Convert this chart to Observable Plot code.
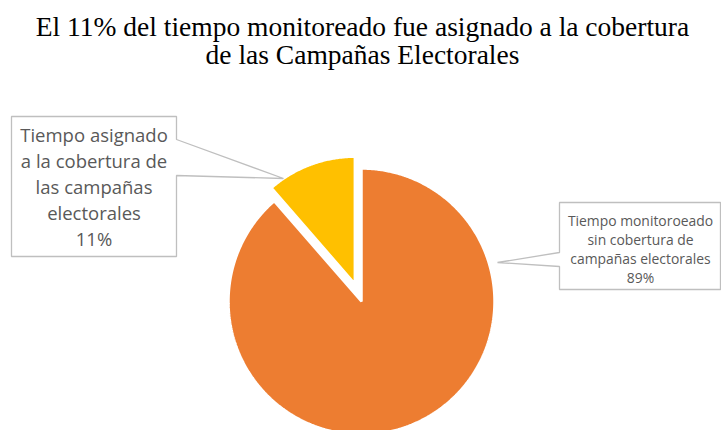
<!DOCTYPE html>
<html><head><meta charset="utf-8">
<script src="https://cdn.jsdelivr.net/npm/d3@7"></script>
<script src="https://cdn.jsdelivr.net/npm/@observablehq/plot@0.6"></script>
<style>
body{margin:0;background:#fff;}
#title{width:725px;height:80px;box-sizing:border-box;padding-top:13px;font-family:"Liberation Serif","Times New Roman",serif;font-size:27.5px;line-height:28px;text-align:center;color:#000;white-space:nowrap;}
#chart svg{display:block;}
</style></head><body>
<div id="title">El 11% del tiempo monitoreado fue asignado a la cobertura<br>de las Campañas Electorales</div>
<div id="chart"></div>
<script>
// ---- data ----
const categories = [
  "Tiempo monitoroeado\nsin cobertura de\ncampañas electorales",
  "Tiempo asignado\na la cobertura de\nlas campañas\nelectorales"
];
const values = [88.6, 11.4];
const colors = ["#ED7D31", "#FFC000"];

// ---- layout (page pixel coordinates) ----
const TOP = 80, W = 721, H = 430;
const pieLayout = {cx: 361, cy: 301, radius: [133, 127], explode: [0, 19]};
const callouts = [
  {side: "left", box: [559, 202, 720, 289], base: [252, 266], tip: [497, 262],
   tx: 640, lastBaseline: 282.3, fontSize: 13.9, spacing: 19},
  {side: "right", box: [11, 116, 176, 256], base: [139, 175], tip: [283, 178],
   tx: 93.5, lastBaseline: 245.3, fontSize: 18.5, spacing: 26}
];

const total = d3.sum(values);
const arcs = d3.pie().sort(null)(values);

function slicePolygon(a, i) {
  const r = pieLayout.radius[i];
  const mid = (a.startAngle + a.endAngle) / 2;
  const ox = pieLayout.cx + pieLayout.explode[i] * Math.sin(mid);
  const oy = pieLayout.cy - pieLayout.explode[i] * Math.cos(mid);
  const pts = [{x: ox, y: oy}];
  const n = Math.ceil((a.endAngle - a.startAngle) / (Math.PI / 360));
  for (let k = 0; k <= n; k++) {
    const t = a.startAngle + (a.endAngle - a.startAngle) * k / n;
    pts.push({x: ox + r * Math.sin(t), y: oy - r * Math.cos(t)});
  }
  return pts;
}

function calloutPolygon(c) {
  const [x1, y1, x2, y2] = c.box, [b1, b2] = c.base, [tx, ty] = c.tip;
  if (c.side === "right")
    return [[x1,y1],[x2,y1],[x2,b1],[tx,ty],[x2,b2],[x2,y2],[x1,y2]].map(([x,y]) => ({x,y}));
  return [[x1,y1],[x2,y1],[x2,y2],[x1,y2],[x1,b2],[tx,ty],[x1,b1]].map(([x,y]) => ({x,y}));
}

const marks = [];
arcs.forEach((a, i) => {
  marks.push(Plot.line(slicePolygon(a, i), {
    x: "x", y: "y", fill: colors[i], stroke: "white", strokeWidth: 2.5,
    curve: "linear-closed", strokeLinejoin: "miter"
  }));
});
callouts.forEach((c, i) => {
  marks.push(Plot.line(calloutPolygon(c), {
    x: "x", y: "y", fill: "white", stroke: "#bfbfbf", strokeWidth: 1.3,
    curve: "linear-closed", strokeLinejoin: "miter"
  }));
  const label = categories[i] + "\n" + Math.round(values[i] / total * 100) + "%";
  marks.push(Plot.text([label], {
    x: () => c.tx, y: () => c.lastBaseline, text: d => d,
    textAnchor: "middle", lineAnchor: "bottom",
    fontSize: c.fontSize, lineHeight: c.spacing / c.fontSize,
    fontFamily: "Open Sans", fill: "#595959"
  }));
});

const chart = Plot.plot({
  width: W, height: H - TOP, margin: 0,
  x: {domain: [0, W], range: [0, W], axis: null},
  y: {domain: [TOP, H], range: [0, H - TOP], axis: null},
  marks
});
document.getElementById("chart").appendChild(chart);
</script>
</body></html>
